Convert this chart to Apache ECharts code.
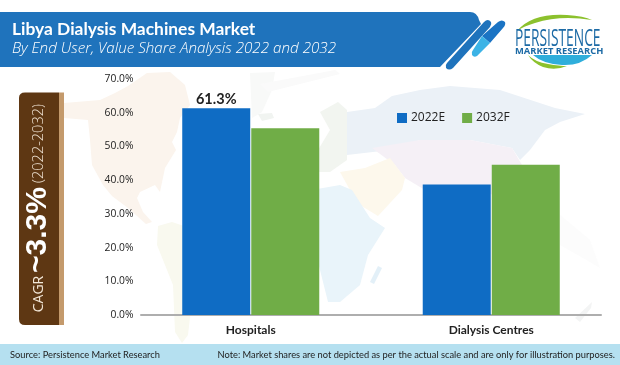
<!DOCTYPE html>
<html><head><meta charset="utf-8">
<style>html,body{margin:0;padding:0;background:#fff}#c{width:620px;height:365px}</style>
<script src="https://cdn.jsdelivr.net/npm/echarts@6/dist/echarts.min.js"></script>
</head><body><div id="c"></div>
<script>
const categories = ['Hospitals', 'Dialysis Centres'];
const seriesNames = ['2022E', '2032F'];
const values2022 = [61.3, 38.7];
const values2032 = [55.4, 44.6];
const labelled2022 = ['61.3%', ''];
const yTicks = {min: 0, max: 70, interval: 10};

const FONT = '"Open Sans","Noto Sans",sans-serif';
const LATO = 'Lato,"Open Sans",sans-serif';
const chart = echarts.init(document.getElementById('c'), null, {renderer: 'canvas'});

let shapeCount = 0;
function shape(d, fill, z) {
  const name = 'decor' + (shapeCount++);
  echarts.graphic.registerShape(name, echarts.graphic.extendPath(d, {}));
  return {type: name, z: z || 5, silent: true, style: {fill}};
}
function land2(d, fill) { return shape(d, fill, -10); }
function text(x, y, t, o, rot, sx) {
  return {type: 'text', x, y, rotation: rot || 0, scaleX: sx || 1, z: 10, silent: true,
    style: Object.assign({text: t, fill: '#fff', font: '14px ' + FONT, align: 'left', verticalAlign: 'middle'}, o)};
}

const decor = [
  // faint world map
  land2('M64 103L100 100L115 93L128 86L147 73L170 72L185 85L190 105L180 118L177 132L172 142L176 150L165 168L160 192L155 185L140 192L137 198L143 212L152 222L146 224L128 208L112 196L103 185L92 165L90 140L88 120L64 118Z', '#fbf4ed'),
  land2('M158 226L172 222L190 228L210 245L205 270L192 300L188 335L182 343L175 332L173 285L157 245Z', '#f9f9ef'),
  land2('M250 73L275 72L272 90L262 112L252 118Z', '#f8f9f8'),
  land2('M258 114L272 113L274 118L262 121Z', '#f1f4f1'),
  land2('M320 112L338 102L347 110L347 160L330 172L312 172L318 150L330 130Z', '#f2f5f0'),
  land2('M347 112L375 108L392 96L420 90L450 86L500 90L555 108L585 114L560 122L545 130L530 150L520 160L512 148L470 140L420 140L390 150L347 155Z', '#ebf1f7'),
  land2('M372 148L420 140L470 140L512 148L522 165L505 175L495 195L470 190L425 190L405 178L395 165Z', '#f5f0f6'),
  land2('M340 172L365 168L390 158L405 178L402 190L378 216L360 205L350 190Z', '#fdf8ec'),
  land2('M300 192L340 185L352 190L370 218L385 228L368 255L360 285L340 302L328 302L318 262L310 232L290 225L288 205Z', '#e9f4fa'),
  land2('M378 266L382 268L374 284L370 282Z', '#e3f0f8'),
  land2('M515 205L560 215L590 240L600 268L590 262L560 245L520 225Z', '#fcfcfc'),
  land2('M575 318L592 302L591 308L580 322Z', '#f3f4f4'),
  land2('M260 84L335 70L340 74L268 92Z', '#fafafa'),
  // header banner
  shape('M0 12L470 12Q477 12 479 20L481 24L440 67L0 67Z', '#1f73bc'),
  shape('M484 22Q488 18 491 22Q492 24 490 27L453 68Q449 71 446 68Q445 65 447 63Z', '#1f73bc'),
  shape('M498 22Q502 19 505 22Q506 25 503 28L490 43L482 36Z', '#1b74c4'),
  shape('M482 36L490 43L477 56Q474 58 472 55Q471 52 473 50Z', '#3cb3e6'),
  // logo arcs
  shape('M517 31Q532 13 567 15Q584 16 592 20Q560 15 535 23Q524 26 517 31Z', '#8cc12d'),
  shape('M528 55Q535 62 548 64Q560 66 567 66Q555 71 543 67Q533 63 528 55Z', '#8cc12d'),
  shape('M533 55L592 55Q580 66 562 65Q543 64 533 55Z', '#2faedb'),
  // CAGR panel
  shape('M25 92.5L59 92.5L59 325L25 325Q19 325 19 319L19 98Q19 92.5 25 92.5Z', '#5e3713'),
  shape('M59 92.5L64 92.5L64 325L59 325Z', '#c49a6c'),
  // footer band
  {type: 'rect', z: 5, silent: true, shape: {x: 0, y: 344, width: 620, height: 21}, style: {fill: '#b5e0f0'}},
  // texts
  text(12, 29, 'Libya Dialysis Machines Market', {font: 'bold 17.4px ' + LATO}),
  text(12, 49, 'By End User, Value Share Analysis 2022 and 2032', {font: 'italic 300 15.2px ' + FONT}),
  text(515, 39.5, 'PERSISTENCE', {font: '23px ' + FONT, fill: '#1c6aa5'}, 0, 0.6),
  text(515, 52, 'MARKET RESEARCH', {font: 'bold 8px ' + FONT, fill: '#1c6aa5'}, 0, 1.17),
  text(39, 294, 'CAGR', {font: '14px ' + FONT, align: 'center', fill: '#f3e7d8'}, Math.PI / 2),
  text(38, 230, '~3.3%', {font: 'bold 30px "Liberation Sans",sans-serif', align: 'center'}, Math.PI / 2),
  text(39, 143.5, '(2022-2032)', {font: '300 14.5px ' + FONT, align: 'center', fill: '#f3e7d8'}, Math.PI / 2),
  text(10, 355, 'Source: Persistence Market Research', {font: '9.3px ' + LATO, fill: '#222'}),
  text(615, 354.5, 'Note: Market shares are not depicted as per the actual scale and are only for illustration purposes.', {font: '9.3px ' + LATO, fill: '#222', align: 'right'})
];

chart.setOption({
  animation: false,
  backgroundColor: '#fff',
  textStyle: {fontFamily: FONT},
  legend: {
    left: 392, top: 107, itemWidth: 10, itemHeight: 10, itemGap: 17, icon: 'rect',
    data: seriesNames, textStyle: {fontSize: 12, color: '#222', padding: [0, 0, 0, -1]}
  },
  grid: [
    {left: 130.5, width: 481, top: 79, height: 236, containLabel: false},
    {left: 141, width: 460, top: 79, height: 236, containLabel: false}
  ],
  xAxis: [
    {type: 'category', gridIndex: 0, data: categories, axisLine: {show: false}, axisTick: {show: false},
      axisLabel: {fontFamily: LATO, fontSize: 12, fontWeight: 'bold', color: '#222', margin: 9}},
    {type: 'category', gridIndex: 1, data: [''], z: 1, axisLine: {show: true, lineStyle: {color: '#aeaeae', width: 2}},
      axisTick: {show: false}, axisLabel: {show: false}}
  ],
  yAxis: [
    {type: 'value', gridIndex: 0, min: yTicks.min, max: yTicks.max, interval: yTicks.interval,
      axisLine: {show: false}, axisTick: {show: false}, splitLine: {show: false},
      axisLabel: {fontSize: 10.3, color: '#222', margin: -3, padding: [3, 0, 0, 0], formatter: v => v.toFixed(1) + '%'}},
    {type: 'value', gridIndex: 1, min: yTicks.min, max: yTicks.max, show: false}
  ],
  series: [
    {name: seriesNames[0], type: 'bar', data: values2022, barWidth: 68, barGap: '1.5%', xAxisIndex: 0, yAxisIndex: 0,
      itemStyle: {color: '#0f6cc4'}, z: 3,
      label: {show: true, position: 'top', distance: 2, fontFamily: LATO, fontSize: 14.5, fontWeight: 'bold', color: '#222',
        formatter: p => labelled2022[p.dataIndex]}},
    {name: seriesNames[1], type: 'bar', data: values2032, barWidth: 68, xAxisIndex: 0, yAxisIndex: 0,
      itemStyle: {color: '#70ad47'}, z: 3}
  ],
  graphic: {elements: decor}
});
</script></body></html>
